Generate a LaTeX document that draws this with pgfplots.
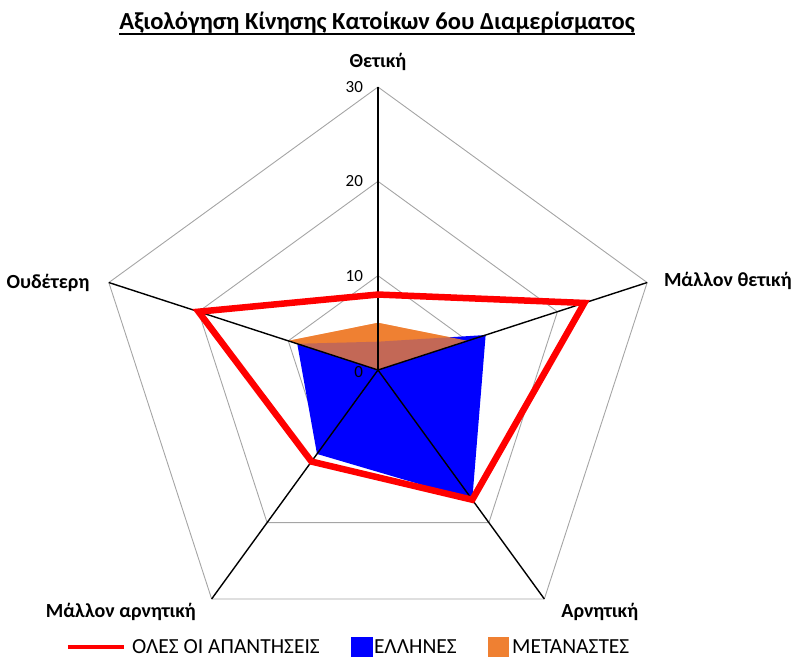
\documentclass[border=0pt]{standalone}
\usepackage{fontspec}
\setmainfont{Carlito}
\usepackage{pgfplots}
\pgfplotsset{compat=1.18}
\usepgfplotslibrary{polar}
\definecolor{orangeC}{RGB}{239,128,50}
\definecolor{blueC}{RGB}{0,0,255}
\definecolor{redC}{RGB}{255,0,0}
\definecolor{gridC}{RGB}{165,165,165}
\begin{document}
\begin{tikzpicture}
\useasboundingbox (-378pt,-298pt) rectangle (414pt,370pt);
\begin{polaraxis}[
  at={(0pt,0pt)}, anchor=center,
  width=566pt, height=566pt, scale only axis,
  xmin=0, xmax=360, ymin=0, ymax=30,
  hide axis, clip=false,
]
% pentagon grid (10, 20, 30)
\addplot[gridC, line width=0.9pt, forget plot] coordinates {(90,10)(18,10)(306,10)(234,10)(162,10)(90,10)};
\addplot[gridC, line width=0.9pt, forget plot] coordinates {(90,20)(18,20)(306,20)(234,20)(162,20)(90,20)};
\addplot[gridC, line width=0.9pt, forget plot] coordinates {(90,30)(18,30)(306,30)(234,30)(162,30)(90,30)};
% METANASTES (opaque underlay)
\addplot[fill=orangeC, draw=none, forget plot] coordinates {(90,5)(18,10)(306,0)(234,0)(162,10)(90,5)};
% ELLHNES
\addplot[fill=blueC, draw=none, forget plot] coordinates {(90,3)(18,12)(306,17)(234,11)(162,9)(90,3)};
% METANASTES (translucent over)
\addplot[fill=orangeC, fill opacity=0.82, draw=none, forget plot] coordinates {(90,5)(18,10)(306,0)(234,0)(162,10)(90,5)};
% spokes
\addplot[black, line width=1.4pt, forget plot] coordinates {(90,0)(90,30)};
\addplot[black, line width=1.4pt, forget plot] coordinates {(18,0)(18,30)};
\addplot[black, line width=1.4pt, forget plot] coordinates {(306,0)(306,30)};
\addplot[black, line width=1.4pt, forget plot] coordinates {(234,0)(234,30)};
\addplot[black, line width=1.4pt, forget plot] coordinates {(162,0)(162,30)};
% OLES OI APANTHSEIS
\addplot[redC, line width=6.5pt, line join=miter, forget plot] coordinates {(90,8)(18,23)(306,17)(234,12)(162,20)} -- cycle;
% tick labels
\node[anchor=east, font=\fontsize{17}{19}\selectfont] at (axis cs:90,30) [xshift=-11.5pt] {30};
\node[anchor=east, font=\fontsize{17}{19}\selectfont] at (axis cs:90,20) [xshift=-11.5pt] {20};
\node[anchor=east, font=\fontsize{17}{19}\selectfont] at (axis cs:90,10) [xshift=-11.5pt] {10};
\node[anchor=east, font=\fontsize{17}{19}\selectfont] at (axis cs:90,0) [xshift=-11.5pt, yshift=-2pt] {0};
% category labels
\node[font=\fontsize{20}{22}\selectfont\bfseries] at (axis cs:90,32.66) {Θετική};
\node[anchor=west, font=\fontsize{20}{22}\selectfont\bfseries] at (axis cs:17.5,31.4) {Μάλλον θετική};
\node[anchor=east, font=\fontsize{20}{22}\selectfont\bfseries] at (axis cs:163,31.6) {Ουδέτερη};
\node[font=\fontsize{20}{22}\selectfont\bfseries] at (axis cs:312.5,34.8) {Αρνητική};
\node[font=\fontsize{20}{22}\selectfont\bfseries] at (axis cs:223.2,37.4) {Μάλλον αρνητική};
\end{polaraxis}
% title
\node[anchor=base, inner sep=0pt, font=\fontsize{24.5}{28}\selectfont\bfseries] (T) at (-1pt,340pt) {Αξιολόγηση Κίνησης Κατοίκων 6ου Διαμερίσματος};
\draw[line width=1.8pt] ([yshift=-4pt]T.base west) -- ([yshift=-4pt]T.base east);
% legend
\draw[redC, line width=4.5pt] (-310pt,-277pt) -- (-254pt,-277pt);
\node[anchor=west, inner sep=0pt, font=\fontsize{21.5}{24}\selectfont] at (-246pt,-277pt) {ΟΛΕΣ ΟΙ ΑΠΑΝΤΗΣΕΙΣ};
\fill[blueC] (-27pt,-287pt) rectangle (-5pt,-267pt);
\node[anchor=west, inner sep=0pt, font=\fontsize{21.5}{24}\selectfont] at (-4pt,-277pt) {ΕΛΛΗΝΕΣ};
\fill[orangeC] (110pt,-287pt) rectangle (131pt,-267pt);
\node[anchor=west, inner sep=0pt, font=\fontsize{21.5}{24}\selectfont] at (134pt,-277pt) {ΜΕΤΑΝΑΣΤΕΣ};
\end{tikzpicture}
\end{document}
